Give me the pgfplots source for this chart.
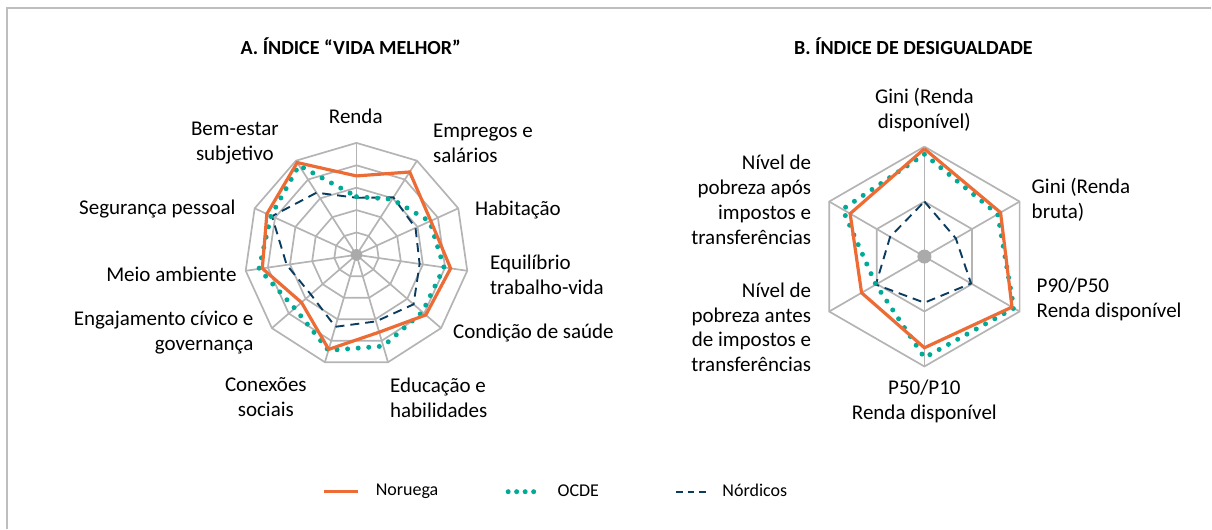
\documentclass[border=0pt]{standalone}
\usepackage{pgfplots}
\pgfplotsset{compat=1.18}
\usepackage{pgfplotstable}
\usepackage{fontspec}
\setmainfont{Carlito}
\definecolor{nor}{RGB}{237,107,52}
\definecolor{oc}{RGB}{0,170,150}
\definecolor{nd}{RGB}{10,60,95}
\definecolor{gr}{RGB}{180,180,180}
\definecolor{frgr}{RGB}{190,190,190}
\definecolor{dotgr}{RGB}{170,170,170}

% Chart A: angle (deg), values as fraction of outer ring
\pgfplotstableread{
ang      nor    ocde   nord
90       0.705  0.52   0.51
57.273   0.88   0.59   0.61
24.545   0.73   0.72   0.58
-8.182   0.85   0.79   0.57
-40.909  0.82   0.78   0.675
-73.636  0.72   0.85   0.62
-106.364 0.88   0.89   0.67
-139.091 0.65   0.73   0.54
-171.818 0.85   0.88   0.63
155.455  0.88   0.84   0.83
122.727  0.98   0.95   0.66
90       0.705  0.52   0.51
}\dataA

% Chart B
\pgfplotstableread{
ang   nor   ocde  nord
90    0.98  0.93  0.50
30    0.80  0.77  0.33
-30   0.92  0.94  0.49
-90   0.83  0.92  0.42
-150  0.66  0.51  0.51
150   0.78  0.86  0.36
90    0.98  0.93  0.50
}\dataB

\newcommand\lbl{\fontsize{10.5}{12.5}\selectfont}

\pgfplotsset{
 radar/.style={hide axis, scale only axis, clip=false,
   xmin=-1.3,xmax=1.3,ymin=-1.3,ymax=1.3, anchor=center},
 gridl/.style={gr, line width=0.85pt, forget plot, data cs=polar, mark=none},
 norst/.style={nor, line width=1.6pt, mark=none, line join=miter},
 ocst/.style={oc, line width=2.5pt, line cap=round, dash pattern=on 0pt off 5.3pt, mark=none},
 ndst/.style={nd, line width=0.95pt, dash pattern=on 4.5pt off 3pt, mark=none},
 legend image code/.code={\draw[#1] (0pt,0pt) -- (17pt,0pt);},
}

\begin{document}
\begin{tikzpicture}
\path (0,0) rectangle (606pt,-264.5pt);
\draw[frgr, line width=0.8pt] (3.5pt,-264.5pt) -- (3.5pt,-4pt) -- (606pt,-4pt);

\begin{axis}[radar, width=145.6pt, height=145.6pt, at={(178.35pt,-127.5pt)},
  legend columns=3,
  legend style={at={(1.181,-0.3139)}, anchor=center, draw=none, fill=none,
    inner sep=0pt, column sep=0pt, nodes={inner sep=0pt},
    font=\fontsize{9}{10.5}\selectfont},
  legend cell align=left]
\pgfplotsinvokeforeach{0.2,0.4,0.6,0.8,1.0}{
  \addplot[gridl] table[x=ang, y expr=#1]{\dataA};
}
\pgfplotsinvokeforeach{90,57.273,24.545,-8.182,-40.909,-73.636,-106.364,-139.091,-171.818,155.455,122.727}{
  \addplot[gridl] coordinates {(#1,0) (#1,1)};
}
\addplot[only marks, mark=*, mark size=2.8pt, mark options={fill=dotgr,draw=dotgr}, forget plot] coordinates {(0,0)};
\addplot[ndst, data cs=polar, forget plot] table[x=ang,y=nord]{\dataA};
\addplot[ocst, data cs=polar, forget plot] table[x=ang,y=ocde]{\dataA};
\addplot[norst, data cs=polar, forget plot] table[x=ang,y=nor]{\dataA};
\addlegendimage{nor, line width=1.8pt}
\addlegendentry{\hspace*{8pt}\makebox[65pt][l]{Noruega}}
\addlegendimage{oc, line width=2.5pt, line cap=round, dash pattern=on 0pt off 4.25pt}
\addlegendentry{\hspace*{6.5pt}\makebox[58.5pt][l]{OCDE}}
\addlegendimage{nd, line width=0.95pt, dash pattern=on 3.5pt off 2.5pt}
\addlegendentry{\hspace*{6pt}Nórdicos}
\end{axis}

\begin{axis}[radar, width=143pt, height=143pt, at={(462.5pt,-128.35pt)}]
\pgfplotsinvokeforeach{0.5,1.0}{
  \addplot[gridl] table[x=ang, y expr=#1]{\dataB};
}
\pgfplotsinvokeforeach{90,30,-30,-90,-150,150}{
  \addplot[gridl] coordinates {(#1,0) (#1,1)};
}
\addplot[only marks, mark=*, mark size=3.3pt, mark options={fill=dotgr,draw=dotgr}, forget plot] coordinates {(0,0)};
\addplot[ndst, data cs=polar] table[x=ang,y=nord]{\dataB};
\addplot[ocst, data cs=polar] table[x=ang,y=ocde]{\dataB};
\addplot[norst, data cs=polar] table[x=ang,y=nor]{\dataB};
\end{axis}

\begin{scope}[x=0.5pt,y=-0.5pt, every node/.style={inner sep=0pt, font=\lbl}]
\node[font=\fontsize{10}{11}\selectfont\bfseries] at (351,46) {A. ÍNDICE “VIDA MELHOR”};
\node[font=\fontsize{10}{11}\selectfont\bfseries] at (914,46) {B. ÍNDICE DE DESIGUALDADE};
% Chart A labels
\node at (356,116) {Renda};
\node[anchor=west, align=left] at (433,143.5) {Empregos e\\salários};
\node[anchor=west] at (475,210) {Habitação};
\node[anchor=west, align=left] at (490,274.5) {Equilíbrio\\trabalho-vida};
\node[anchor=west] at (453,333) {Condição de saúde};
\node[anchor=west, align=left] at (390,398) {Educação e\\habilidades};
\node[align=center] at (266,397.5) {Conexões\\sociais};
\node[anchor=east, align=right] at (254,332.5) {Engajamento cívico e\\governança};
\node[anchor=east] at (237,274) {Meio ambiente};
\node[anchor=east] at (236,209) {Segurança pessoal};
\node[align=center] at (235,143) {Bem-estar\\subjetivo};
% Chart B labels
\node[align=center] at (925,110.5) {Gini (Renda\\disponível)};
\node[anchor=west, align=left] at (1032,200) {Gini (Renda\\bruta)};
\node[anchor=west, align=left] at (1037,300) {P90/P50\\Renda disponível};
\node[align=center] at (925,402) {P50/P10\\Renda disponível};
\node[anchor=east, align=right] at (812,327.5) {Nível de\\pobreza antes\\de impostos e\\transferências};
\node[anchor=east, align=right] at (812,200) {Nível de\\pobreza após\\impostos e\\transferências};
\end{scope}
\end{tikzpicture}
\end{document}
